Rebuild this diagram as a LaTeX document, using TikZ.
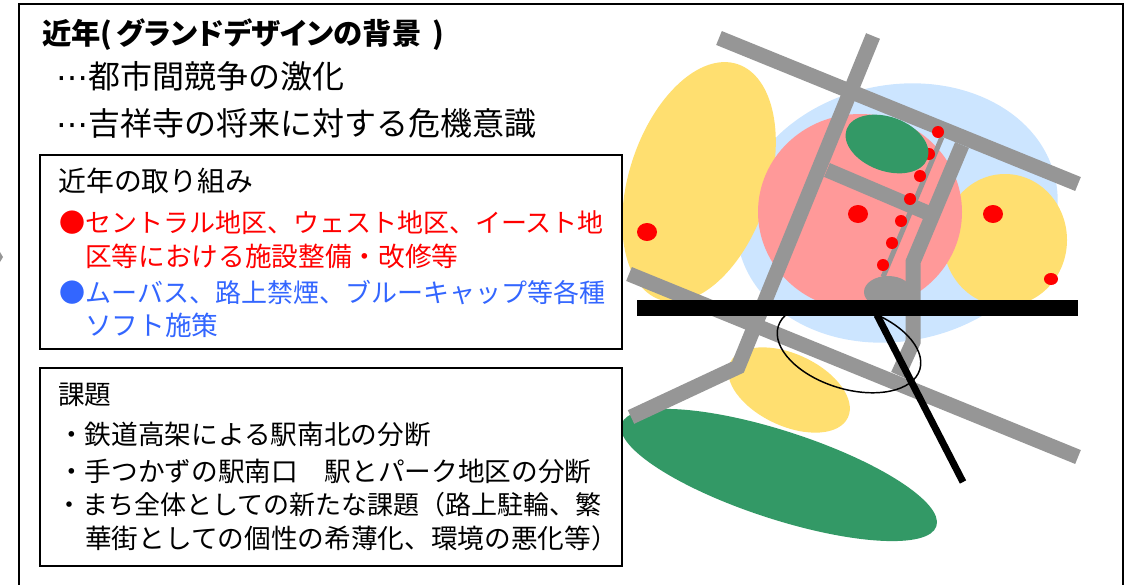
\documentclass[tikz,border=0pt]{standalone}
\usepackage{fontspec}
\setmainfont{Noto Sans CJK JP}
\newfontfamily\palfont[RawFeature=+palt]{Noto Sans CJK JP}
\newfontfamily\dotfont{DejaVu Sans}
\usepackage{tikz}
\definecolor{zoneyellow}{HTML}{FFDF70}
\definecolor{zoneblue}{HTML}{CCE5FF}
\definecolor{zonepink}{HTML}{FF9999}
\definecolor{zonegreen}{HTML}{339966}
\definecolor{roadgray}{HTML}{969696}
\definecolor{textblue}{HTML}{3366FF}
\tikzset{
  textline/.style={anchor=base west,inner sep=0pt},
  lead/.style={textline,font=\fontsize{24pt}{24pt}\selectfont},
  boxtitle/.style={textline,font=\fontsize{20.9pt}{24pt}\selectfont},
  body/.style={textline,font=\fontsize{20pt}{24pt}\selectfont},
  bodywide/.style={textline,font=\fontsize{19.5pt}{24pt}\selectfont},
  panel/.style={draw=black,line width=1.5pt,fill=white,anchor=north west,inner sep=0pt},
  road/.style={draw=roadgray,line width=11.25pt},
  dot/.style={fill=red},
}
\begin{document}
\begin{tikzpicture}[x=0.75pt,y=-0.75pt]
  \useasboundingbox (0,0) rectangle (1142,585);

  \fill[roadgray] (0,252) -- (3,257) -- (0,262) -- cycle;
  \draw[line width=1.9pt] (19,585) -- (19,4) -- (1123,4) -- (1123,585);

  % zones
  \fill[zoneblue,shift={(897,213)},rotate=12] (0,0) ellipse [x radius=162,y radius=128];
  \fill[zoneyellow,shift={(699,182)},rotate=72] (0,0) ellipse [x radius=124,y radius=70];
  \fill[zoneyellow] (1005,240) ellipse [x radius=62,y radius=66];
  \fill[zoneyellow,shift={(789,390)},rotate=-25] (0,0) ellipse [x radius=65,y radius=36];
  \fill[zonepink] (860,212) ellipse [x radius=102,y radius=98];
  \fill[zonegreen,shift={(779,475)},rotate=-18] (0,0) ellipse [x radius=165.5,y radius=44];

  % roads
  \draw[road] (719,38) -- (1078,184);
  \draw[road] (873,36) -- (738,367) -- (631,417);
  \draw[road] (629,274) -- (1078,457);
  \draw[road] (827,170) -- (928,213);
  \draw[road] (962,145) -- (913,262) -- (913,342) -- (898,375);

  % station and rail
  \draw[roadgray,line width=3.75pt] (942,137) -- (883,277);
  \fill[roadgray] (888,292) ellipse [x radius=24,y radius=16];
  \foreach \px/\py in {938/132,929/154,920/176,910/199,901/221,892/243,883/265}
    \fill[dot] (\px,\py) circle [radius=6];
  \fill[zonegreen,shift={(887,144)},rotate=-20] (0,0) ellipse [x radius=43,y radius=27];
  \fill[dot] (858,214) ellipse [x radius=10,y radius=9];
  \fill[dot] (993,214) ellipse [x radius=10,y radius=9];
  \fill[dot] (647,232) ellipse [x radius=10,y radius=9];
  \fill[dot] (1051,279) ellipse [x radius=7,y radius=6];

  \draw[line width=1.1pt,shift={(849,348)},rotate=-17] (0,0) ellipse [x radius=74,y radius=41];
  \draw[line width=5.25pt] (877,315) -- (963,482);
  \draw[line width=12pt] (637,308) -- (1078,308);

  % text
  \node[lead] (head) at (42,45) {\fontsize{22pt}{24pt}\selectfont\bfseries 近年(\hspace{3pt}\palfont\bfseries グランドデザインの背景\hspace{3pt} )};
  \node[lead] (compete) at (56,89) {{\dotfont ⋯}都市間競争の激化};
  \node[lead] (crisis) at (56,135) {{\dotfont ⋯}吉祥寺の将来に対する危機意識};

  \node[panel,minimum width=436.5pt,minimum height=146pt] (workbox) at (39,153.5) {};
  \node[boxtitle] (worktitle) at (58,191) {近年の取り組み};
  \node[bodywide,red] (workred) at (59,232) {●セントラル地区、ウェスト地区、イースト地};
  \node[body,red] (workredb) at (85,266) {区等における施設整備・改修等};
  \node[bodywide,textblue] (workblue) at (59,302) {●ムーバス、路上禁煙、ブルーキャップ等各種};
  \node[body,textblue] (workblueb) at (85,335) {ソフト施策};

  \node[panel,minimum width=436.5pt,minimum height=149pt] (issuebox) at (39,366.5) {};
  \node[body] (issuetitle) at (58,404) {課題};
  \node[body] (issuea) at (58,444) {・鉄道高架による駅南北の分断};
  \node[body] (issueb) at (58,481) {・手つかずの駅南口　駅とパーク地区の分断};
  \node[bodywide] (issuec) at (56,514) {・まち全体としての新たな課題（路上駐輪、繁};
  \node[body] (issued) at (85,548) {華街としての個性の希薄化、環境の悪化等）};
\end{tikzpicture}
\end{document}
